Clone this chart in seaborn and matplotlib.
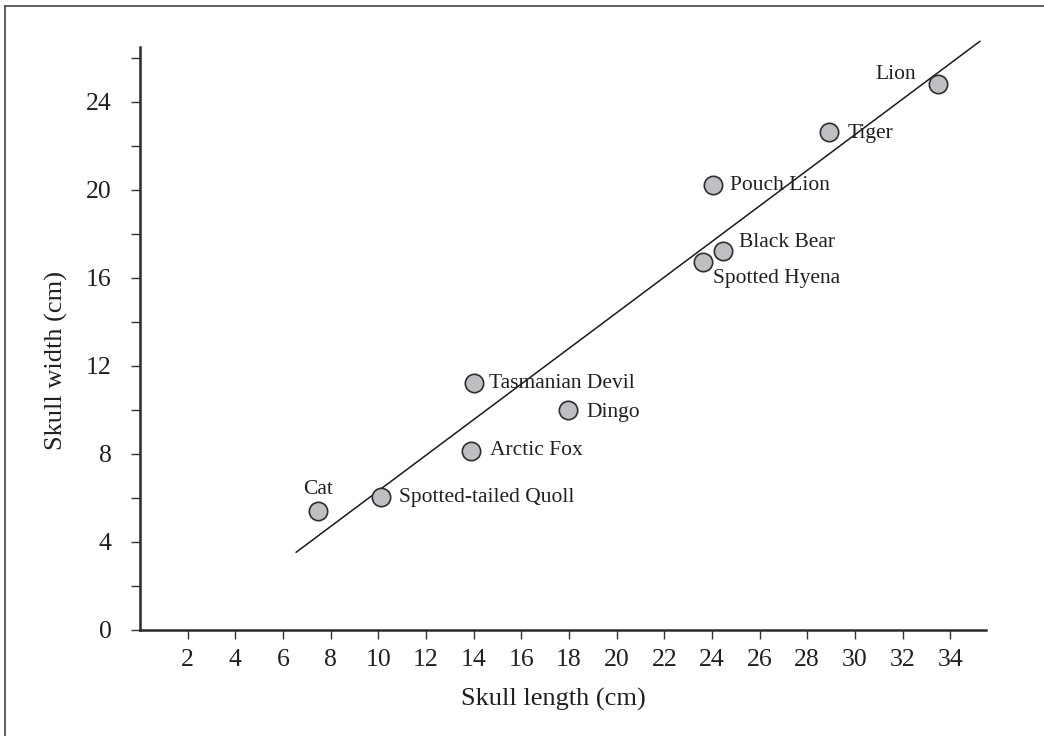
import numpy as np
import pandas as pd
import seaborn as sns
import matplotlib.pyplot as plt
from matplotlib.lines import Line2D

animals = ["Cat", "Spotted-tailed Quoll", "Arctic Fox", "Tasmanian Devil", "Dingo",
           "Spotted Hyena", "Black Bear", "Pouch Lion", "Tiger", "Lion"]
skull_length = [7.46, 10.1, 13.88, 14.02, 17.97, 23.61, 24.45, 24.03, 28.93, 33.47]
skull_width = [5.40, 6.02, 8.14, 11.2, 9.99, 16.73, 17.23, 20.21, 22.64, 24.8]

# extent of the fitted line
fit_range = [6.55, 35.25]

x_ticks = list(range(2, 35, 2))
y_ticks = list(range(0, 25, 4))
y_minor = list(range(2, 27, 4))

# label placement (pixels from the point) and alignment
label_pos = {
    "Cat": (0, 21, "center"),
    "Spotted-tailed Quoll": (18, 0, "left"),
    "Arctic Fox": (19, 0, "left"),
    "Tasmanian Devil": (15, 0, "left"),
    "Dingo": (18, -3, "left"),
    "Spotted Hyena": (10, -17, "left"),
    "Black Bear": (16, 8, "left"),
    "Pouch Lion": (17, 0, "left"),
    "Tiger": (18, -2, "left"),
    "Lion": (-22, 10, "right"),
}

df = pd.DataFrame({"animal": animals, "length": skull_length, "width": skull_width})

sns.set_theme(style="ticks")
plt.rcParams["font.family"] = ["Liberation Serif", "DejaVu Serif"]
ink = "#231f20"

fig = plt.figure(figsize=(10.44, 7.36), dpi=100)
ax = fig.add_axes([0.1341, 0.1444, 0.8103, 0.7913])

# least squares line through the points
slope, intercept = np.polyfit(df["length"], df["width"], 1)
fx = np.array(fit_range)
ax.plot(fx, slope * fx + intercept, color="#1a1a1a", lw=1.1, clip_on=False, zorder=2)

sns.scatterplot(data=df, x="length", y="width", ax=ax, s=175, color="#bfbfc3",
                edgecolor="#2e2e2e", linewidth=1.2, zorder=3, clip_on=False, legend=False)

for name, x, y in zip(animals, skull_length, skull_width):
    dx, dy, ha = label_pos[name]
    ax.annotate(name, (x, y), xytext=(dx, dy), textcoords="offset pixels",
                ha=ha, va="center", fontsize=15.5, color=ink, zorder=4)

ax.set_xlim(0, 35.5)
ax.set_ylim(0, 26.47)
ax.set_xticks(x_ticks)
ax.set_yticks(y_ticks)
ax.set_yticks(y_minor, minor=True)
ax.tick_params(axis="both", which="both", direction="out", length=6.5, width=1,
               color="#333333", labelsize=18.5, labelcolor=ink)
ax.tick_params(axis="x", pad=7.5)
ax.tick_params(axis="y", pad=14)

for side in ["top", "right"]:
    ax.spines[side].set_visible(False)
for side in ["left", "bottom"]:
    ax.spines[side].set_linewidth(1.8)
    ax.spines[side].set_color("#2b2b2b")

ax.set_xlabel("Skull length (cm)", fontsize=19, color=ink)
ax.set_ylabel("Skull width (cm)", fontsize=19, color=ink)
ax.xaxis.set_label_coords(0.489, -0.100)
ax.yaxis.set_label_coords(-0.085, 0.463)

# page frame, only left and top edges show
fig.add_artist(Line2D([0.0048, 0.0048], [0, 0.9918], transform=fig.transFigure, color="#444444", lw=1.2))
fig.add_artist(Line2D([0.0048, 1], [0.9918, 0.9918], transform=fig.transFigure, color="#444444", lw=1.2))

fig.savefig("out.png", dpi=100)
